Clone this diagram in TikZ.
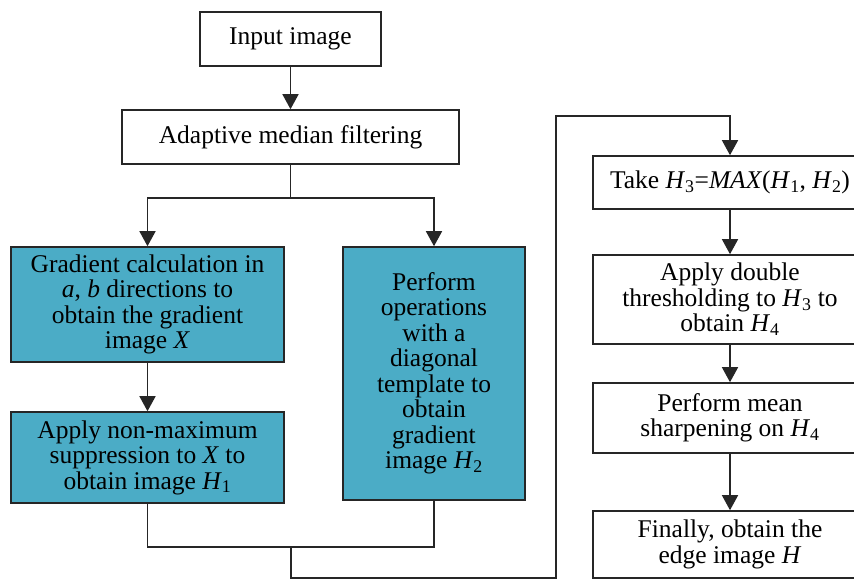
\documentclass[tikz,border=0pt]{standalone}
\usepackage{fontspec}
\setmainfont{Liberation Serif}
\newfontfamily\timesfont{Liberation Serif}
\usetikzlibrary{arrows.meta}
\definecolor{tealfill}{HTML}{4BACC6}
\newcommand\Hx[1]{\textit{H}\textsubscript{#1}}
\tikzset{
  box/.style={draw=black!85, line width=1.6pt, fill=white, align=center, inner sep=2pt,
    font=\timesfont\fontsize{25.5}{25.5}\selectfont},
  tbox/.style={box, fill=tealfill},
  arr/.style={draw=black!85, line width=1.5pt, -{Triangle[width=16pt,length=15pt]}},
  ln/.style={draw=black!85, line width=1.5pt}
}
\begin{document}
\begin{tikzpicture}[x=1pt,y=-1pt]
\useasboundingbox (0,0) rectangle (854,580);
\clip (0,0) rectangle (854,580);
\fill[white] (0,0) rectangle (854,580);
\node[box, minimum width=181pt, minimum height=54pt] (in) at (290.5,39) {Input image};
\node[box, minimum width=337pt, minimum height=54pt] (amf) at (290.5,137) {Adaptive median filtering};
\node[tbox, minimum width=273pt, minimum height=115pt] (g1) at (147.5,304.5)
  {Gradient calculation in\\ \textit{a}, \textit{b} directions to\\ obtain the gradient\\ image \textit{X}};
\node[tbox, minimum width=273pt, minimum height=91pt] (g2) at (147.5,457.5)
  {Apply non-maximum\\ suppression to \textit{X} to\\ obtain image \Hx{1}};
\node[tbox, minimum width=182pt, minimum height=253pt] (dg) at (434,373.5)
  {Perform\\ operations\\ with a\\ diagonal\\ template to\\ obtain\\ gradient\\ image \Hx{2}};
\node[box, minimum width=274pt, minimum height=53pt] (t1) at (730,182.5)
  {Take \Hx{3}=\textit{MAX}(\Hx{1}, \Hx{2})};
\node[box, minimum width=274pt, minimum height=89pt] (t2) at (730,299.5)
  {Apply double\\ thresholding to \Hx{3} to\\ obtain \Hx{4}};
\node[box, minimum width=274pt, minimum height=70pt] (t3) at (730,418)
  {Perform mean\\ sharpening on \Hx{4}};
\node[box, minimum width=274pt, minimum height=67pt] (t4) at (730,544.5)
  {Finally, obtain the\\ edge image \textit{H}};
\coordinate (j1) at (290.5,198);
\coordinate (j2) at (291,547);
\coordinate (b1) at (291,578);
\coordinate (b2) at (556,578);
\coordinate (b3) at (556,116);
\draw[arr] (in) -- (amf);
\draw[ln] (amf.south) -- (j1);
\draw[arr] (j1) -| (g1.north);
\draw[arr] (j1) -| (dg.north);
\draw[arr] (g1) -- (g2);
\draw[ln] (g2.south) |- (j2);
\draw[ln] (dg.south) |- (j2);
\draw[arr] (j2) -- (b1) -- (b2) -- (b3) -| (t1.north);
\draw[arr] (t1) -- (t2);
\draw[arr] (t2) -- (t3);
\draw[arr] (t3) -- (t4);
\end{tikzpicture}
\end{document}
